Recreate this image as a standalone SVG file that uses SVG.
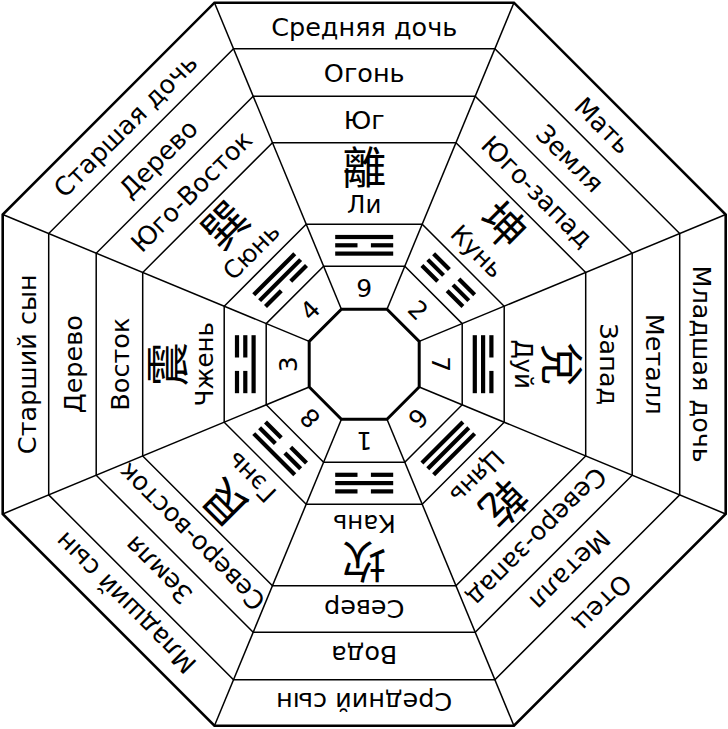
<svg xmlns="http://www.w3.org/2000/svg" xmlns:xlink="http://www.w3.org/1999/xlink" width="728" height="729" viewBox="0 0 728 729">
<style>
.ln{fill:none;stroke:#000;stroke-width:1.5}
.outer{fill:none;stroke:#000;stroke-width:2.6}
.inner{fill:none;stroke:#000;stroke-width:3}
.t{font-family:"DejaVu Sans",sans-serif;font-size:25.5px;text-anchor:middle;fill:#000}
.p{font-family:"DejaVu Sans",sans-serif;font-size:24.5px;text-anchor:middle;fill:#000}
.n{font-family:"DejaVu Sans",sans-serif;font-size:25px;text-anchor:middle;fill:#000}
.c{font-family:"Noto Sans CJK TC","Noto Sans CJK SC",sans-serif;font-size:44px;text-anchor:middle;fill:#000}
</style>
<defs>
<g id="yang"><rect x="-29" y="-2.1" width="58" height="4.2"/></g>
<g id="yin"><rect x="-29" y="-2.1" width="22.3" height="4.2"/><rect x="6.7" y="-2.1" width="22.3" height="4.2"/></g>
</defs>
<rect width="728" height="729" fill="#fff"/>
<g transform="translate(364.2,364.2)">
<g id="connectors">
<polygon class="outer" points="-149.74,-361.5 149.74,-361.5 361.5,-149.74 361.5,149.74 149.74,361.5 -149.74,361.5 -361.5,149.74 -361.5,-149.74"/>
<polygon class="ln" points="-130.68,-315.5 130.68,-315.5 315.5,-130.68 315.5,130.68 130.68,315.5 -130.68,315.5 -315.5,130.68 -315.5,-130.68"/>
<polygon class="ln" points="-111.01,-268 111.01,-268 268,-111.01 268,111.01 111.01,268 -111.01,268 -268,111.01 -268,-111.01"/>
<polygon class="ln" points="-91.75,-221.5 91.75,-221.5 221.5,-91.75 221.5,91.75 91.75,221.5 -91.75,221.5 -221.5,91.75 -221.5,-91.75"/>
<polygon class="ln" points="-57.99,-140 57.99,-140 140,-57.99 140,57.99 57.99,140 -57.99,140 -140,57.99 -140,-57.99"/>
<polygon class="ln" points="-40.59,-98 40.59,-98 98,-40.59 98,40.59 40.59,98 -40.59,98 -98,40.59 -98,-40.59"/>
<line class="ln" x1="22.78" y1="-55" x2="149.74" y2="-361.5"/>
<line class="ln" x1="22.78" y1="-55" x2="149.74" y2="-361.5" transform="rotate(45)"/>
<line class="ln" x1="22.78" y1="-55" x2="149.74" y2="-361.5" transform="rotate(90)"/>
<line class="ln" x1="22.78" y1="-55" x2="149.74" y2="-361.5" transform="rotate(135)"/>
<line class="ln" x1="22.78" y1="-55" x2="149.74" y2="-361.5" transform="rotate(180)"/>
<line class="ln" x1="22.78" y1="-55" x2="149.74" y2="-361.5" transform="rotate(225)"/>
<line class="ln" x1="22.78" y1="-55" x2="149.74" y2="-361.5" transform="rotate(270)"/>
<line class="ln" x1="22.78" y1="-55" x2="149.74" y2="-361.5" transform="rotate(315)"/>
<polygon class="inner" points="-22.78,-55 22.78,-55 55,-22.78 55,22.78 22.78,55 -22.78,55 -55,22.78 -55,-22.78"/>
</g>
<g id="south-li" transform="rotate(0)">
<text class="t" y="-328.7">Средняя дочь</text>
<text class="t" y="-282">Огонь</text>
<text class="t" y="-235.4">Юг</text>
<text class="c" y="-180.5">離</text>
<text class="p" y="-151.2">Ли</text>
<use xlink:href="#yang" y="-127.2"/><use xlink:href="#yin" y="-118.9"/><use xlink:href="#yang" y="-110.6"/>
<text class="n" y="-67.5">9</text>
</g>
<g id="southwest-kun" transform="rotate(45)">
<text class="t" y="-328.7">Мать</text>
<text class="t" y="-282">Земля</text>
<text class="t" y="-235.4">Юго-запад</text>
<text class="c" y="-180.5">坤</text>
<text class="p" y="-151.2">Кунь</text>
<use xlink:href="#yin" y="-127.2"/><use xlink:href="#yin" y="-118.9"/><use xlink:href="#yin" y="-110.6"/>
<text class="n" y="-67.5">2</text>
</g>
<g id="west-dui" transform="rotate(90)">
<text class="t" y="-328.7">Младшая дочь</text>
<text class="t" y="-282">Металл</text>
<text class="t" y="-235.4">Запад</text>
<text class="c" y="-180.5">兌</text>
<text class="p" y="-151.2">Дуй</text>
<use xlink:href="#yin" y="-127.2"/><use xlink:href="#yang" y="-118.9"/><use xlink:href="#yang" y="-110.6"/>
<text class="n" y="-67.5">7</text>
</g>
<g id="northwest-qian" transform="rotate(135)">
<text class="t" y="-328.7">Отец</text>
<text class="t" y="-282">Металл</text>
<text class="t" y="-235.4">Северо-запад</text>
<text class="c" y="-180.5">乾</text>
<text class="p" y="-151.2">Цянь</text>
<use xlink:href="#yang" y="-127.2"/><use xlink:href="#yang" y="-118.9"/><use xlink:href="#yang" y="-110.6"/>
<text class="n" y="-67.5">6</text>
</g>
<g id="north-kan" transform="rotate(180)">
<text class="t" y="-328.7">Средний сын</text>
<text class="t" y="-282">Вода</text>
<text class="t" y="-235.4">Север</text>
<text class="c" y="-180.5">坎</text>
<text class="p" y="-151.2">Кань</text>
<use xlink:href="#yin" y="-127.2"/><use xlink:href="#yang" y="-118.9"/><use xlink:href="#yin" y="-110.6"/>
<text class="n" y="-67.5">1</text>
</g>
<g id="northeast-gen" transform="rotate(225)">
<text class="t" y="-328.7">Младший сын</text>
<text class="t" y="-282">Земля</text>
<text class="t" y="-235.4">Северо-восток</text>
<text class="c" y="-180.5">艮</text>
<text class="p" y="-151.2">Гэнь</text>
<use xlink:href="#yang" y="-127.2"/><use xlink:href="#yin" y="-118.9"/><use xlink:href="#yin" y="-110.6"/>
<text class="n" y="-67.5">8</text>
</g>
<g id="east-zhen" transform="rotate(270)">
<text class="t" y="-328.7">Старший сын</text>
<text class="t" y="-282">Дерево</text>
<text class="t" y="-235.4">Восток</text>
<text class="c" y="-180.5">震</text>
<text class="p" y="-151.2">Чжень</text>
<use xlink:href="#yin" y="-127.2"/><use xlink:href="#yin" y="-118.9"/><use xlink:href="#yang" y="-110.6"/>
<text class="n" y="-67.5">3</text>
</g>
<g id="southeast-xun" transform="rotate(315)">
<text class="t" y="-328.7">Старшая дочь</text>
<text class="t" y="-282">Дерево</text>
<text class="t" y="-235.4">Юго-Восток</text>
<text class="c" y="-180.5">巽</text>
<text class="p" y="-151.2">Сюнь</text>
<use xlink:href="#yang" y="-127.2"/><use xlink:href="#yang" y="-118.9"/><use xlink:href="#yin" y="-110.6"/>
<text class="n" y="-67.5">4</text>
</g>
</g>
</svg>
